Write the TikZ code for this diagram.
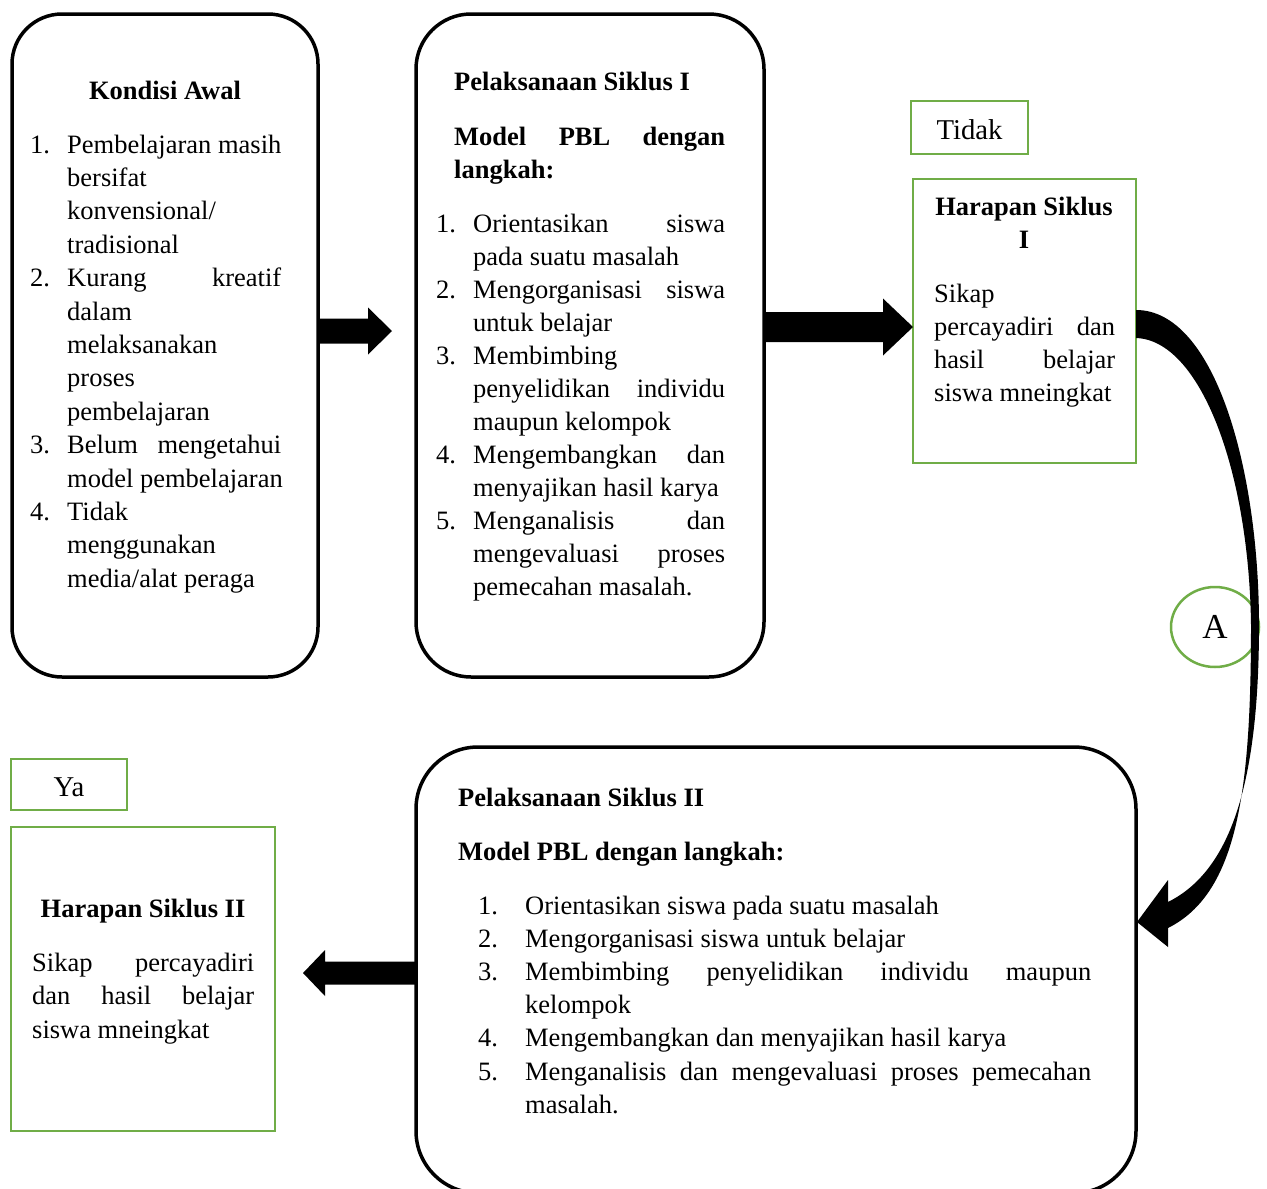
\documentclass[tikz,border=0pt]{standalone}
\usepackage{fontspec}
\setmainfont{Liberation Serif}
\usetikzlibrary{calc,shapes.geometric}
\definecolor{grn}{RGB}{112,173,71}
\newcommand\jst[2]{\makebox[#1][s]{#2}}
\newcommand\itm[2]{\makebox[#1][l]{#2}}
\newcommand\blockarrow[5]{%
  \fill let \p1=(#1), \p2=(#2), \n1={ifthenelse(\x2>\x1,1,-1)} in
   (\x1,\y1+#3) -- (\x2-\n1*#5,\y1+#3) -- (\x2-\n1*#5,\y1+#4) -- (\x2,\y1)
   -- (\x2-\n1*#5,\y1-#4) -- (\x2-\n1*#5,\y1-#3) -- (\x1,\y1-#3) -- cycle;}
\begin{document}
\begin{tikzpicture}[x=1pt,y=-1pt,
  rbox/.style={draw, line width=3.5pt, inner sep=0pt, outer sep=0pt},
  gbox/.style={draw=grn, line width=2.5pt, inner sep=0pt, outer sep=0pt},
  txt/.style={inner sep=0pt, anchor=base west, font=\fontsize{26.5}{#1}\selectfont},
  txt/.default=33.4,
  btxt/.style={inner sep=0pt, anchor=base west, font=\fontsize{26.5}{#1}\selectfont\bfseries},
  btxt/.default=33.4,
  lbl/.style={gbox, text height=24pt, text depth=0pt}
]
\useasboundingbox (0,0) rectangle (1267,1189);

% boxes
\node[rbox, rounded corners=50pt, minimum width=306pt, minimum height=663pt] (k) at (165,345.5) {};
\node[rbox, rounded corners=55pt, minimum width=348pt, minimum height=663pt] (p1) at (590,345.5) {};
\node[gbox, minimum width=223pt, minimum height=284pt] (h1) at (1024.5,321) {};
\node[lbl, minimum width=117pt, minimum height=53pt] (tidak) at (969.5,127.5) {\fontsize{28.7}{33}\selectfont Tidak};
\node[rbox, rounded corners=62pt, minimum width=720pt, minimum height=446pt] (p2) at (776,970) {};
\node[lbl, minimum width=116pt, minimum height=51pt] (ya) at (69,784.5) {\fontsize{28.7}{33}\selectfont Ya};
\node[gbox, minimum width=264pt, minimum height=304pt] (h2) at (143,979) {};

% Kondisi Awal text
\node[btxt, anchor=base] (kt) at (165,99) {Kondisi Awal};
\node[txt] (kl) at (30,153) {\begin{tabular}[t]{@{}l@{}}
\itm{37pt}{1.}Pembelajaran masih\\
\hspace{37pt}bersifat\\
\hspace{37pt}konvensional/\\
\hspace{37pt}tradisional\\
\itm{37pt}{2.}\jst{214pt}{Kurang kreatif}\\
\hspace{37pt}dalam\\
\hspace{37pt}melaksanakan\\
\hspace{37pt}proses\\
\hspace{37pt}pembelajaran\\
\itm{37pt}{3.}\jst{214pt}{Belum mengetahui}\\
\hspace{37pt}model pembelajaran\\
\itm{37pt}{4.}Tidak\\
\hspace{37pt}menggunakan\\
\hspace{37pt}media/alat peraga
\end{tabular}};

% Pelaksanaan Siklus I text
\node[btxt] (p1t) at (454,90) {Pelaksanaan Siklus I};
\node[btxt=33] (p1m) at (454,145) {\begin{tabular}[t]{@{}l@{}}
\jst{271pt}{Model PBL dengan}\\
langkah:
\end{tabular}};
\node[txt=33] (p1l) at (436,232) {\begin{tabular}[t]{@{}l@{}}
\itm{37pt}{1.}\jst{252pt}{Orientasikan siswa}\\
\hspace{37pt}pada suatu masalah\\
\itm{37pt}{2.}\jst{252pt}{Mengorganisasi siswa}\\
\hspace{37pt}untuk belajar\\
\itm{37pt}{3.}Membimbing\\
\hspace{37pt}\jst{252pt}{penyelidikan individu}\\
\hspace{37pt}maupun kelompok\\
\itm{37pt}{4.}\jst{252pt}{Mengembangkan dan}\\
\hspace{37pt}menyajikan hasil karya\\
\itm{37pt}{5.}\jst{252pt}{Menganalisis dan}\\
\hspace{37pt}\jst{252pt}{mengevaluasi proses}\\
\hspace{37pt}pemecahan masalah.
\end{tabular}};

% Harapan Siklus I text
\node[btxt=33, anchor=base] (h1t) at (1024,215) {\begin{tabular}[t]{@{}c@{}}
Harapan Siklus\\ I
\end{tabular}};
\node[txt=33] (h1b) at (934,302) {\begin{tabular}[t]{@{}l@{}}
Sikap\\
\jst{181pt}{percayadiri dan}\\
\jst{181pt}{hasil belajar}\\
siswa mneingkat
\end{tabular}};

% Pelaksanaan Siklus II text
\node[btxt] (p2t) at (458,806) {Pelaksanaan Siklus II};
\node[btxt] (p2m) at (458,860) {Model PBL dengan langkah:};
\node[txt=33.2] (p2l) at (478,914) {\begin{tabular}[t]{@{}l@{}}
\itm{47pt}{1.}Orientasikan siswa pada suatu masalah\\
\itm{47pt}{2.}Mengorganisasi siswa untuk belajar\\
\itm{47pt}{3.}\jst{566pt}{Membimbing penyelidikan individu maupun}\\
\hspace{47pt}kelompok\\
\itm{47pt}{4.}Mengembangkan dan menyajikan hasil karya\\
\itm{47pt}{5.}\jst{566pt}{Menganalisis dan mengevaluasi proses pemecahan}\\
\hspace{47pt}masalah.
\end{tabular}};

% Harapan Siklus II text
\node[btxt, anchor=base] (h2t) at (143,917) {Harapan Siklus II};
\node[txt=33.5] (h2b) at (32,971) {\begin{tabular}[t]{@{}l@{}}
\jst{222pt}{Sikap percayadiri}\\
\jst{222pt}{dan hasil belajar}\\
siswa mneingkat
\end{tabular}};

% circle A
\node[gbox, ellipse, minimum width=88pt, minimum height=80pt] (a) at (1215,627) {\fontsize{35}{40}\selectfont A};

% block arrows
\blockarrow{[yshift=14.5pt]k.east}{[yshift=14.5pt,xshift=-24pt]p1.west}{12.5pt}{23.5pt}{24pt}
\blockarrow{[yshift=18.5pt]p1.east}{[yshift=-6pt]h1.west}{15pt}{28.5pt}{30pt}
\blockarrow{[yshift=-3pt]p2.west}{[yshift=6pt,xshift=28pt]h2.east}{11.5pt}{23pt}{22pt}

% curved arrow from Harapan Siklus I to Pelaksanaan Siklus II
\coordinate (ca) at ($(h1.east)+(0,-11)$);
\coordinate (cb) at ($(h1.east)+(0,17)$);
\coordinate (ct) at ($(p2.east)+(1,-48)$);
\fill (ca) .. controls (1215,310) and (1259,470) .. (1259,625)
  .. controls (1259,790) and (1228,872) .. (1168,902)
  -- (1168,880) -- (ct) -- (1168,947) -- (1168,928)
  .. controls (1238,893) and (1251,790) .. (1251,625)
  .. controls (1249,470) and (1200,340) .. (cb) -- cycle;
\end{tikzpicture}
\end{document}
